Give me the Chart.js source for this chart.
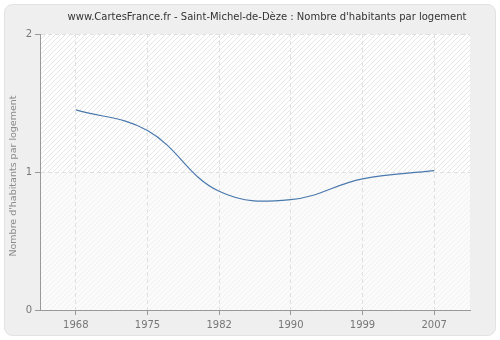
<!DOCTYPE html>
<html>
<head>
<meta charset="utf-8">
<script src="https://cdn.jsdelivr.net/npm/chart.js@4/dist/chart.umd.min.js"></script>
<style>
html,body{margin:0;padding:0;background:#fff;}
#wrap{width:500px;height:340px;position:relative;}
</style>
</head>
<body>
<div id="wrap"><canvas id="c" width="500" height="340"></canvas></div>
<script>
const titleText = "www.CartesFrance.fr - Saint-Michel-de-Dèze : Nombre d'habitants par logement";
const yAxisTitle = "Nombre d'habitants par logement";
const years = ["1968", "1975", "1982", "1990", "1999", "2007"];
const habitantsParLogement = [1.45, 1.30, 0.86, 0.80, 0.95, 1.01];
const yTicks = [0, 1, 2];

function makePattern(bg, line) {
  const p = document.createElement('canvas');
  p.width = 5; p.height = 5;
  const g = p.getContext('2d');
  g.fillStyle = bg; g.fillRect(0, 0, 5, 5);
  g.strokeStyle = line; g.lineWidth = 1;
  g.beginPath();
  g.moveTo(-1, 6); g.lineTo(6, -1);
  g.moveTo(-1, 1); g.lineTo(1, -1);
  g.moveTo(4, 6); g.lineTo(6, 4);
  g.stroke();
  return g.createPattern(p, 'repeat');
}

const bgPlugin = {
  id: 'bgPlugin',
  beforeDraw(chart) {
    const ctx = chart.ctx;
    ctx.save();
    ctx.fillStyle = '#ffffff';
    ctx.fillRect(0, 0, chart.width, chart.height);
    const x = 4.5, y = 4.5, w = 491, h = 331, r = 8;
    ctx.beginPath();
    ctx.moveTo(x + r, y);
    ctx.arcTo(x + w, y, x + w, y + h, r);
    ctx.arcTo(x + w, y + h, x, y + h, r);
    ctx.arcTo(x, y + h, x, y, r);
    ctx.arcTo(x, y, x + w, y, r);
    ctx.closePath();
    ctx.fillStyle = '#efefef';
    ctx.fill();
    ctx.strokeStyle = '#e2e2e2';
    ctx.lineWidth = 1;
    ctx.stroke();
    const a = chart.chartArea;
    const ys = chart.scales.y;
    const mid = ys.getPixelForValue(1);
    ctx.fillStyle = makePattern('#ffffff', '#e6e6e6');
    ctx.fillRect(a.left, a.top, a.right - a.left, mid - a.top);
    ctx.fillStyle = makePattern('#fbfbfb', '#f1f1f1');
    ctx.fillRect(a.left, mid, a.right - a.left, a.bottom - mid);
    ctx.fillStyle = '#333333';
    ctx.font = '10px "DejaVu Sans", Verdana, sans-serif';
    ctx.textAlign = 'center';
    ctx.textBaseline = 'middle';
    ctx.fillText(titleText, 267, 17);
    ctx.translate(14, 176);
    ctx.rotate(-Math.PI / 2);
    ctx.fillStyle = '#8a8a8a';
    ctx.font = '9.5px "DejaVu Sans", Verdana, sans-serif';
    ctx.fillText(yAxisTitle, 0, 0);
    ctx.restore();
  }
};

new Chart(document.getElementById('c'), {
  type: 'line',
  data: {
    labels: years,
    datasets: [{
      data: habitantsParLogement,
      borderColor: '#4a79ad',
      borderWidth: 1.2,
      pointRadius: 0,
      tension: 0.4,
      fill: false
    }]
  },
  options: {
    responsive: false,
    animation: false,
    devicePixelRatio: 1,
    layout: { padding: { left: 0, right: 30, top: 34, bottom: 10 } },
    plugins: { legend: { display: false }, title: { display: false }, tooltip: { enabled: false } },
    scales: {
      x: {
        offset: true,
        grid: {
          offset: false,
          color: '#e0e0e0',
          drawTicks: true,
          tickLength: 5,
          tickColor: '#999999',
          tickBorderDash: []
        },
        border: { display: true, color: '#999999', width: 1, dash: [4, 3] },
        ticks: { color: '#777777', font: { family: '"DejaVu Sans", Verdana, sans-serif', size: 10 }, padding: 4, maxRotation: 0 },
        afterFit(s) { s.height = 20; }
      },
      y: {
        min: 0, max: 2,
        afterBuildTicks(s) { s.ticks = yTicks.map(v => ({ value: v })); },
        grid: {
          color: '#e0e0e0',
          drawTicks: true,
          tickLength: 5,
          tickColor: '#999999',
          tickBorderDash: []
        },
        border: { display: true, color: '#999999', width: 1, dash: [4, 3] },
        ticks: { color: '#777777', font: { family: '"DejaVu Sans", Verdana, sans-serif', size: 10 }, padding: 3 },
        afterFit(s) { s.width = 40; }
      }
    }
  },
  plugins: [bgPlugin]
});
</script>
</body>
</html>
